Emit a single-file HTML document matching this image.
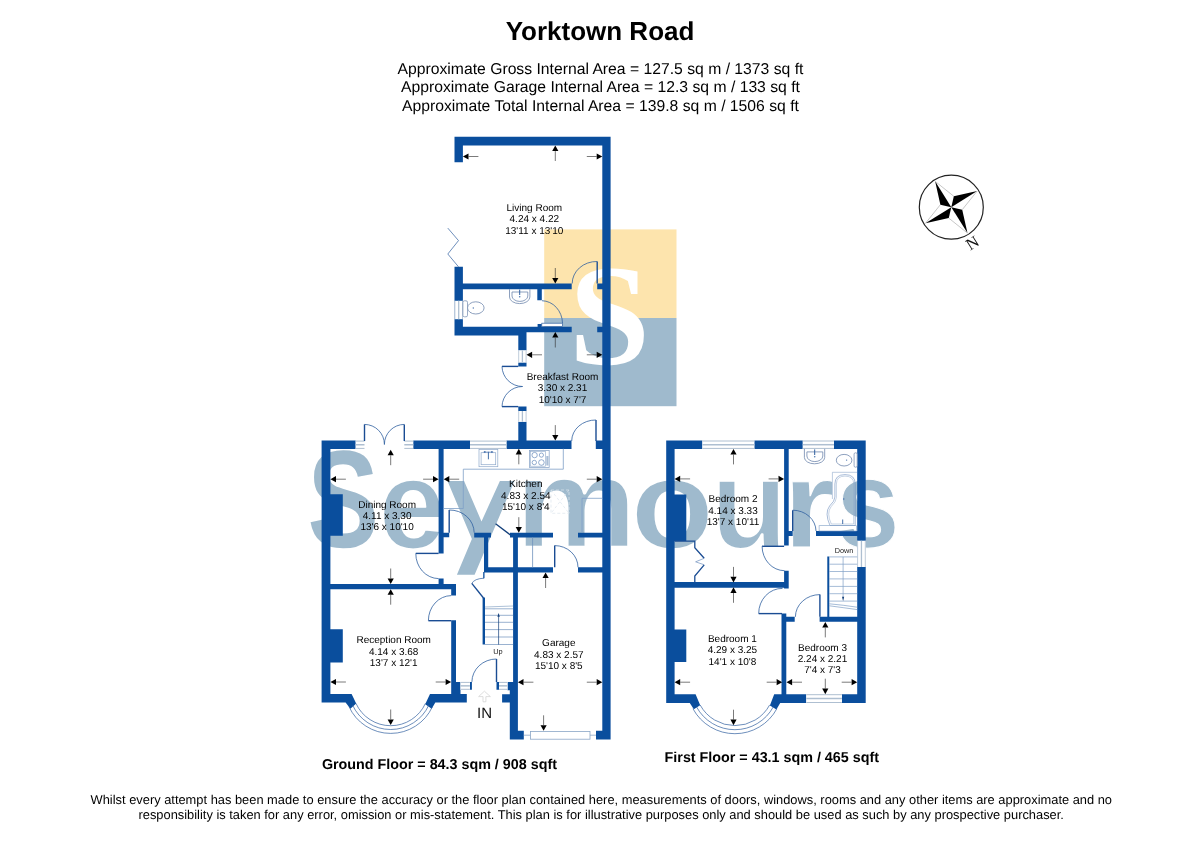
<!DOCTYPE html>
<html><head><meta charset="utf-8"><title>Yorktown Road</title>
<style>
html,body{margin:0;padding:0;background:#fff;}
body{width:1200px;height:848px;overflow:hidden;font-family:"Liberation Sans",sans-serif;}
svg{display:block;will-change:transform;font-family:"Liberation Sans",sans-serif;text-rendering:geometricPrecision;}
svg text{-webkit-font-smoothing:antialiased;}
</style></head><body>
<svg width="1200" height="848" viewBox="0 0 1200 848">
<rect width="1200" height="848" fill="#fff"/>
<rect x="544.20" y="229.40" width="132.30" height="88.60" fill="#fde4ad" />
<rect x="544.20" y="318.00" width="132.30" height="88.20" fill="#9fbacd" />
<text transform="matrix(1.0045,0,0,0.9943,568.99,364.16)" font-family="Liberation Serif" font-weight="bold" font-size="145" fill="#fff">S</text>
<text transform="matrix(0.8231,0,0,1.0661,307.59,546.61)" font-family="Liberation Sans" font-weight="bold" font-size="130" fill="#9fbacd">S</text>
<text transform="matrix(0.9247,0,0,0.9734,378.79,547.53)" font-family="Liberation Sans" font-weight="bold" font-size="130" fill="#9fbacd" stroke="#fff" stroke-width="1.69" stroke-linejoin="round">e</text>
<polygon points="447.50,481.10 464.10,481.10 481.50,521.40 499.90,481.10 514.40,481.10 474.60,574.80 456.90,574.80 471.90,539.10" fill="#9fbacd" />
<text transform="matrix(1.0587,0,0,0.9772,514.75,547.30)" font-family="Liberation Sans" font-weight="bold" font-size="130" fill="#9fbacd" stroke="#fff" stroke-width="2.55" stroke-linejoin="round">m</text>
<text transform="matrix(1.0522,0,0,0.9790,630.53,547.73)" font-family="Liberation Sans" font-weight="bold" font-size="130" fill="#9fbacd" stroke="#fff" stroke-width="1.97" stroke-linejoin="round">o</text>
<text transform="matrix(0.9754,0,0,0.9829,710.49,547.62)" font-family="Liberation Sans" font-weight="bold" font-size="130" fill="#9fbacd" stroke="#fff" stroke-width="2.66" stroke-linejoin="round">u</text>
<text transform="matrix(1.0174,0,0,0.9501,783.30,546.60)" font-family="Liberation Sans" font-weight="bold" font-size="130" fill="#9fbacd" stroke="#fff" stroke-width="1.22" stroke-linejoin="round">r</text>
<text transform="matrix(0.8814,0,0,0.9692,836.09,546.94)" font-family="Liberation Sans" font-weight="bold" font-size="130" fill="#9fbacd" stroke="#fff" stroke-width="1.08" stroke-linejoin="round">s</text>
<path fill="#0a4e9d" d="M454.50,136.70H610.60V145.50H454.50ZM454.50,136.70H462.90V162.20H454.50ZM602.30,136.70H610.60V739.40H602.30ZM454.50,266.80H462.90V335.60H454.50ZM462.90,283.60H571.70V289.20H462.90ZM597.20,283.60H602.30V289.20H597.20ZM454.50,326.80H526.50V335.60H454.50ZM526.40,326.80H571.70V332.20H526.40ZM597.20,326.80H602.30V332.20H597.20ZM537.30,289.00H541.80V300.30H537.30ZM518.30,335.60H526.50V350.40H518.30ZM518.30,362.40H526.50V366.40H518.30ZM518.30,406.60H526.50V411.00H518.30ZM518.30,421.70H526.50V441.00H518.30ZM321.60,440.60H355.70V448.90H321.60ZM413.20,440.60H470.00V448.90H413.20ZM506.40,440.60H571.50V448.90H506.40ZM595.80,440.60H602.30V448.90H595.80ZM321.60,440.60H330.40V702.50H321.60ZM321.60,694.00L351.60,694.00L356.20,703.40L350.40,708.70L345.60,702.50L321.60,702.50ZM430.00,694.00L466.80,694.00L466.80,702.50L435.30,702.50L431.70,708.70L425.20,704.30ZM451.20,681.90H460.50V702.40H451.20ZM451.20,694.30H466.80V702.40H451.20ZM330.40,494.30H342.80V535.80H330.40ZM330.40,629.30H342.80V662.40H330.40ZM330.40,584.00H456.00V589.20H330.40ZM438.60,448.70H443.60V553.40H438.60ZM438.60,578.60H443.60V584.00H438.60ZM443.60,532.70H449.20V537.30H443.60ZM474.20,532.70H491.00V537.40H474.20ZM510.00,532.70H553.00V537.40H510.00ZM578.00,532.70H602.30V537.40H578.00ZM484.00,537.40H488.20V572.50H484.00ZM484.00,567.30H553.00V572.50H484.00ZM578.00,567.30H602.30V572.50H578.00ZM513.10,532.70H517.90V682.00H513.10ZM507.50,681.90H517.90V690.30H507.50ZM509.80,690.30H517.90V739.50H509.80ZM502.10,694.30H509.80V702.40H502.10ZM509.80,730.70H523.80V739.50H509.80ZM596.00,730.70H610.60V739.50H596.00ZM451.20,584.00H456.00V595.60H451.20ZM451.20,620.20H456.00V694.00H451.20ZM482.60,597.60H485.00V644.60H482.60ZM469.90,681.90H471.90V689.80H469.90ZM496.50,681.90H499.00V689.80H496.50ZM483.20,572.00H484.50V578.30H483.20ZM537.60,324.00H541.80V326.80H537.60ZM666.20,440.50H674.60V703.00H666.20ZM666.20,440.50H702.40V448.90H666.20ZM754.30,440.50H802.80V448.90H754.30ZM834.00,440.50H865.70V448.90H834.00ZM857.20,440.50H865.70V540.80H857.20ZM857.20,567.00H865.70V703.00H857.20ZM784.10,448.90H788.70V545.50H784.10ZM784.10,570.70H788.70V588.40H784.10ZM788.70,531.00H792.70V536.00H788.70ZM816.00,531.00H857.20V536.00H816.00ZM674.60,494.50H686.30V541.00H674.60ZM674.60,629.60H686.30V662.10H674.60ZM674.60,581.90H788.70V587.80H674.60ZM781.50,613.60H786.30V694.30H781.50ZM786.10,616.80H794.70V621.80H786.10ZM819.60,616.80H857.20V621.80H819.60ZM827.30,556.60H829.30V616.80H827.30ZM666.20,694.20L695.60,694.20L700.20,705.20L693.80,709.30L689.80,703.00L666.20,703.00ZM774.20,694.20L806.30,694.20L806.30,703.00L780.20,703.00L776.40,709.50L769.90,705.50ZM841.90,694.20H865.70V703.00H841.90Z"/>
<rect x="454.50" y="300.80" width="8.40" height="18.40" fill="#fff" />
<line x1="454.90" y1="300.80" x2="454.90" y2="319.20" stroke="#aebfd1" stroke-width="0.8"/>
<line x1="462.50" y1="300.80" x2="462.50" y2="319.20" stroke="#aebfd1" stroke-width="0.8"/>
<line x1="458.70" y1="300.80" x2="458.70" y2="319.20" stroke="#aebfd1" stroke-width="1.3"/>
<rect x="518.30" y="350.40" width="8.20" height="12.00" fill="#fff" />
<line x1="518.70" y1="350.40" x2="518.70" y2="362.40" stroke="#aebfd1" stroke-width="0.8"/>
<line x1="526.10" y1="350.40" x2="526.10" y2="362.40" stroke="#aebfd1" stroke-width="0.8"/>
<line x1="522.40" y1="350.40" x2="522.40" y2="362.40" stroke="#aebfd1" stroke-width="1.3"/>
<rect x="518.30" y="411.00" width="8.20" height="10.70" fill="#fff" />
<line x1="518.70" y1="411.00" x2="518.70" y2="421.70" stroke="#aebfd1" stroke-width="0.8"/>
<line x1="526.10" y1="411.00" x2="526.10" y2="421.70" stroke="#aebfd1" stroke-width="0.8"/>
<line x1="522.40" y1="411.00" x2="522.40" y2="421.70" stroke="#aebfd1" stroke-width="1.3"/>
<rect x="355.70" y="440.60" width="8.80" height="8.30" fill="#fff" />
<line x1="355.70" y1="441.10" x2="364.50" y2="441.10" stroke="#aebfd1" stroke-width="1.0"/>
<line x1="355.70" y1="448.40" x2="364.50" y2="448.40" stroke="#aebfd1" stroke-width="1.0"/>
<line x1="355.70" y1="444.75" x2="364.50" y2="444.75" stroke="#aebfd1" stroke-width="1.5"/>
<rect x="404.30" y="440.60" width="8.90" height="8.30" fill="#fff" />
<line x1="404.30" y1="441.10" x2="413.20" y2="441.10" stroke="#aebfd1" stroke-width="1.0"/>
<line x1="404.30" y1="448.40" x2="413.20" y2="448.40" stroke="#aebfd1" stroke-width="1.0"/>
<line x1="404.30" y1="444.75" x2="413.20" y2="444.75" stroke="#aebfd1" stroke-width="1.5"/>
<rect x="470.00" y="440.60" width="36.40" height="8.30" fill="#fff" />
<line x1="470.00" y1="441.10" x2="506.40" y2="441.10" stroke="#aebfd1" stroke-width="1.0"/>
<line x1="470.00" y1="448.40" x2="506.40" y2="448.40" stroke="#aebfd1" stroke-width="1.0"/>
<line x1="470.00" y1="444.75" x2="506.40" y2="444.75" stroke="#aebfd1" stroke-width="1.5"/>
<rect x="460.50" y="681.90" width="9.40" height="7.90" fill="#fff" />
<line x1="460.50" y1="682.40" x2="469.90" y2="682.40" stroke="#aebfd1" stroke-width="1.0"/>
<line x1="460.50" y1="689.30" x2="469.90" y2="689.30" stroke="#aebfd1" stroke-width="1.0"/>
<line x1="460.50" y1="685.85" x2="469.90" y2="685.85" stroke="#aebfd1" stroke-width="1.5"/>
<rect x="499.00" y="681.90" width="8.50" height="7.90" fill="#fff" />
<line x1="499.00" y1="682.40" x2="507.50" y2="682.40" stroke="#aebfd1" stroke-width="1.0"/>
<line x1="499.00" y1="689.30" x2="507.50" y2="689.30" stroke="#aebfd1" stroke-width="1.0"/>
<line x1="499.00" y1="685.85" x2="507.50" y2="685.85" stroke="#aebfd1" stroke-width="1.5"/>
<line x1="523.80" y1="735.20" x2="530.50" y2="735.20" stroke="#8aa6c6" stroke-width="0.8"/>
<line x1="590.00" y1="735.20" x2="596.00" y2="735.20" stroke="#8aa6c6" stroke-width="0.8"/>
<rect x="530.50" y="731.40" width="59.50" height="7.80" fill="#fff" stroke="#8aa6c6" stroke-width="0.8"/>
<path d="M355.94,703.34 A38.2,38.2 0 0 0 425.46,703.34" stroke="#2f5f9f" stroke-width="0.7" fill="none" />
<path d="M352.48,704.92 A42,42 0 0 0 428.92,704.92" stroke="#2f5f9f" stroke-width="0.7" fill="none" />
<path d="M348.93,706.53 A45.9,45.9 0 0 0 432.47,706.53" stroke="#2f5f9f" stroke-width="0.7" fill="none" />
<line x1="364.50" y1="424.40" x2="364.50" y2="441.00" stroke="#1a4c93" stroke-width="1.4"/>
<line x1="404.30" y1="424.40" x2="404.30" y2="441.00" stroke="#1a4c93" stroke-width="1.4"/>
<path d="M364.5,424.4 A20,20 0 0 1 384.4,444.5" stroke="#2f5f9f" stroke-width="0.8" fill="none" />
<path d="M404.3,424.4 A20,20 0 0 0 384.4,444.5" stroke="#2f5f9f" stroke-width="0.8" fill="none" />
<line x1="502.00" y1="366.40" x2="518.30" y2="366.40" stroke="#1a4c93" stroke-width="1.4"/>
<line x1="502.00" y1="406.60" x2="518.30" y2="406.60" stroke="#1a4c93" stroke-width="1.4"/>
<path d="M502,366.4 A20.5,20.5 0 0 0 522.6,386.5" stroke="#2f5f9f" stroke-width="0.8" fill="none" />
<path d="M502,406.6 A20.5,20.5 0 0 1 522.6,386.5" stroke="#2f5f9f" stroke-width="0.8" fill="none" />
<line x1="596.00" y1="420.00" x2="596.00" y2="441.00" stroke="#1a4c93" stroke-width="1.4"/>
<path d="M596,420 A24,21 0 0 0 571.7,441" stroke="#2f5f9f" stroke-width="0.8" fill="none" />
<line x1="449.20" y1="510.00" x2="449.20" y2="532.70" stroke="#1a4c93" stroke-width="1.4"/>
<path d="M449.2,510 A24.5,23 0 0 1 474.2,532.7" stroke="#2f5f9f" stroke-width="0.8" fill="none" />
<line x1="415.80" y1="553.40" x2="438.60" y2="553.40" stroke="#1a4c93" stroke-width="1.4"/>
<path d="M415.8,553.4 A23,25 0 0 0 438.6,578.6" stroke="#2f5f9f" stroke-width="0.8" fill="none" />
<line x1="428.40" y1="620.70" x2="451.20" y2="620.70" stroke="#1a4c93" stroke-width="1.4"/>
<path d="M428.4,620.7 A23,25 0 0 1 451.2,595.6" stroke="#2f5f9f" stroke-width="0.8" fill="none" />
<line x1="554.70" y1="545.60" x2="554.70" y2="567.30" stroke="#1a4c93" stroke-width="1.4"/>
<path d="M554.7,545.6 A23.3,21.7 0 0 1 578,567.3" stroke="#2f5f9f" stroke-width="0.8" fill="none" />
<line x1="532.60" y1="537.40" x2="532.60" y2="567.30" stroke="#6f90bb" stroke-width="0.8"/>
<line x1="495.60" y1="523.70" x2="510.40" y2="534.90" stroke="#123f7a" stroke-width="1.3"/>
<path d="M484,578.2 Q474.5,578.6 471.8,583.4" stroke="#2f5f9f" stroke-width="0.7" fill="none" />
<line x1="471.80" y1="583.40" x2="483.50" y2="598.00" stroke="#1a4c93" stroke-width="1.4"/>
<line x1="496.50" y1="659.00" x2="496.50" y2="682.00" stroke="#1a4c93" stroke-width="1.4"/>
<path d="M496.5,659 A24.6,23 0 0 0 471.9,681.9" stroke="#2f5f9f" stroke-width="0.8" fill="none" />
<line x1="485.00" y1="607.00" x2="513.10" y2="606.00" stroke="#8aa6c6" stroke-width="0.7"/>
<line x1="485.00" y1="608.80" x2="513.10" y2="608.80" stroke="#6f90bb" stroke-width="0.7"/>
<line x1="485.00" y1="615.30" x2="513.10" y2="615.30" stroke="#6f90bb" stroke-width="0.7"/>
<line x1="485.00" y1="622.30" x2="513.10" y2="622.30" stroke="#6f90bb" stroke-width="0.7"/>
<line x1="485.00" y1="629.60" x2="513.10" y2="629.60" stroke="#6f90bb" stroke-width="0.7"/>
<line x1="485.00" y1="637.00" x2="513.10" y2="637.00" stroke="#6f90bb" stroke-width="0.7"/>
<line x1="485.00" y1="644.50" x2="513.10" y2="644.50" stroke="#6f90bb" stroke-width="0.7"/>
<line x1="498.60" y1="616.00" x2="498.60" y2="644.60" stroke="#123f7a" stroke-width="0.7"/>
<polygon points="498.60,613.00 497.40,616.80 499.80,616.80" fill="#123f7a" />
<text x="498" y="654.2" font-size="7.4" text-anchor="middle" fill="#222">Up</text>
<path d="M443.6,508.5 H463.3 V469.2 H563.3 V448.7" stroke="#7f9fc6" stroke-width="0.8" fill="none" />
<rect x="479.00" y="449.50" width="18.80" height="17.20" fill="none" stroke="#8fa9cb" stroke-width="0.7"/>
<rect x="481.10" y="452.70" width="14.60" height="12.00" fill="none" stroke="#8fa9cb" stroke-width="0.7"/>
<line x1="488.40" y1="451.80" x2="488.40" y2="459.30" stroke="#2f5f9f" stroke-width="0.9"/>
<circle cx="484.8" cy="452" r="0.9" fill="#4d77b0"/>
<circle cx="491.9" cy="452" r="0.9" fill="#4d77b0"/>
<line x1="483.50" y1="452.00" x2="493.30" y2="452.00" stroke="#4d77b0" stroke-width="0.5"/>
<rect x="529.40" y="450.40" width="19.80" height="17.00" fill="none" stroke="#8fa9cb" stroke-width="0.8"/>
<rect x="530.60" y="451.60" width="15.00" height="14.60" fill="none" stroke="#8fa9cb" stroke-width="0.6"/>
<circle cx="534.6" cy="455.1" r="2.7" fill="none" stroke="#4d77b0" stroke-width="0.6"/>
<circle cx="541.4" cy="455.1" r="2.1" fill="none" stroke="#4d77b0" stroke-width="0.6"/>
<circle cx="534.3" cy="462.5" r="2.2" fill="none" stroke="#4d77b0" stroke-width="0.6"/>
<circle cx="541.4" cy="462.5" r="2.8" fill="none" stroke="#4d77b0" stroke-width="0.6"/>
<rect x="546.30" y="456.00" width="2.20" height="9.50" fill="#a9bdd6" />
<path d="M602.3,498.3 H582 V532.7" stroke="#7f9fc6" stroke-width="0.8" fill="none" />
<path d="M551,490 H569 V513.3 H551 Z M551,490 L569,513.3 M569,490 L551,513.3" stroke="#dde5ee" stroke-width="0.7" fill="none" stroke-dasharray="3 2"/>
<text x="484.6" y="717.8" font-size="15" text-anchor="middle" fill="#111">IN</text>
<path d="M484.4,691.2 L490.4,696.6 H485.9 V701.8 H483.0 V696.6 H478.6 Z" stroke="#d4d4d4" stroke-width="0.8" fill="none" />
<ellipse cx="475.8" cy="307.9" rx="8.3" ry="6.1" fill="none" stroke="#7088ad" stroke-width="0.8"/>
<circle cx="473.3" cy="308" r="0.7" fill="#4d77b0"/>
<rect x="462.9" y="300.8" width="4.6" height="16" rx="1.5" fill="#fff" stroke="#7088ad" stroke-width="0.7"/>
<path d="M509.5,289.2 V297 A10.2,6.6 0 0 0 529.9,297 V289.2" stroke="#7088ad" stroke-width="0.8" fill="none" />
<path d="M512,292 V296 A7.9,5.4 0 0 0 527.8,296 V292 Z" stroke="#7088ad" stroke-width="0.8" fill="none" />
<line x1="519.70" y1="289.60" x2="519.70" y2="295.00" stroke="#2f5f9f" stroke-width="1.0"/>
<circle cx="519.7" cy="296.8" r="0.8" fill="#4d77b0"/>
<path d="M542,300.7 A21,23 0 0 1 562.5,323" stroke="#2f5f9f" stroke-width="0.8" fill="none" />
<rect x="541.80" y="323.20" width="20.70" height="3.20" fill="#fff" stroke="#2f5f9f" stroke-width="0.7"/>
<path d="M458.5,266.8 L447.8,254 L458.5,240.6 L447.8,228.1" stroke="#2f5f9f" stroke-width="0.7" fill="none" />
<line x1="597.20" y1="261.50" x2="597.20" y2="283.50" stroke="#1a4c93" stroke-width="1.4"/>
<path d="M597.2,261.5 A24.5,22 0 0 0 572.2,283.5" stroke="#2f5f9f" stroke-width="0.8" fill="none" />
<polygon points="462.90,156.50 468.50,153.40 468.50,159.60" fill="#000" />
<line x1="468.50" y1="156.50" x2="478.40" y2="156.50" stroke="#333" stroke-width="0.65"/>
<polygon points="555.30,145.50 552.20,151.10 558.40,151.10" fill="#000" />
<line x1="555.30" y1="151.10" x2="555.30" y2="161.00" stroke="#333" stroke-width="0.65"/>
<polygon points="602.30,156.50 596.70,153.40 596.70,159.60" fill="#000" />
<line x1="596.70" y1="156.50" x2="586.80" y2="156.50" stroke="#333" stroke-width="0.65"/>
<polygon points="555.30,283.50 552.20,277.90 558.40,277.90" fill="#000" />
<line x1="555.30" y1="277.90" x2="555.30" y2="268.00" stroke="#333" stroke-width="0.65"/>
<polygon points="555.30,332.00 552.20,337.60 558.40,337.60" fill="#000" />
<line x1="555.30" y1="337.60" x2="555.30" y2="347.50" stroke="#333" stroke-width="0.65"/>
<polygon points="526.50,354.80 532.10,351.70 532.10,357.90" fill="#000" />
<line x1="532.10" y1="354.80" x2="542.00" y2="354.80" stroke="#333" stroke-width="0.65"/>
<polygon points="602.30,354.80 596.70,351.70 596.70,357.90" fill="#000" />
<line x1="596.70" y1="354.80" x2="586.80" y2="354.80" stroke="#333" stroke-width="0.65"/>
<polygon points="555.30,440.60 552.20,435.00 558.40,435.00" fill="#000" />
<line x1="555.30" y1="435.00" x2="555.30" y2="425.10" stroke="#333" stroke-width="0.65"/>
<polygon points="518.80,448.80 515.70,454.40 521.90,454.40" fill="#000" />
<line x1="518.80" y1="454.40" x2="518.80" y2="464.30" stroke="#333" stroke-width="0.65"/>
<polygon points="443.70,479.20 449.30,476.10 449.30,482.30" fill="#000" />
<line x1="449.30" y1="479.20" x2="459.20" y2="479.20" stroke="#333" stroke-width="0.65"/>
<polygon points="602.30,479.20 596.70,476.10 596.70,482.30" fill="#000" />
<line x1="596.70" y1="479.20" x2="586.80" y2="479.20" stroke="#333" stroke-width="0.65"/>
<polygon points="518.80,532.70 515.70,527.10 521.90,527.10" fill="#000" />
<line x1="518.80" y1="527.10" x2="518.80" y2="517.20" stroke="#333" stroke-width="0.65"/>
<polygon points="390.70,449.70 387.60,455.30 393.80,455.30" fill="#000" />
<line x1="390.70" y1="455.30" x2="390.70" y2="465.20" stroke="#333" stroke-width="0.65"/>
<polygon points="330.40,479.20 336.00,476.10 336.00,482.30" fill="#000" />
<line x1="336.00" y1="479.20" x2="345.90" y2="479.20" stroke="#333" stroke-width="0.65"/>
<polygon points="438.60,479.20 433.00,476.10 433.00,482.30" fill="#000" />
<line x1="433.00" y1="479.20" x2="423.10" y2="479.20" stroke="#333" stroke-width="0.65"/>
<polygon points="390.70,584.00 387.60,578.40 393.80,578.40" fill="#000" />
<line x1="390.70" y1="578.40" x2="390.70" y2="568.50" stroke="#333" stroke-width="0.65"/>
<polygon points="390.70,589.20 387.60,594.80 393.80,594.80" fill="#000" />
<line x1="390.70" y1="594.80" x2="390.70" y2="604.70" stroke="#333" stroke-width="0.65"/>
<polygon points="330.40,682.00 336.00,678.90 336.00,685.10" fill="#000" />
<line x1="336.00" y1="682.00" x2="345.90" y2="682.00" stroke="#333" stroke-width="0.65"/>
<polygon points="451.20,682.00 445.60,678.90 445.60,685.10" fill="#000" />
<line x1="445.60" y1="682.00" x2="435.70" y2="682.00" stroke="#333" stroke-width="0.65"/>
<polygon points="390.70,725.00 387.60,719.40 393.80,719.40" fill="#000" />
<line x1="390.70" y1="719.40" x2="390.70" y2="709.50" stroke="#333" stroke-width="0.65"/>
<polygon points="545.60,572.50 542.50,578.10 548.70,578.10" fill="#000" />
<line x1="545.60" y1="578.10" x2="545.60" y2="588.00" stroke="#333" stroke-width="0.65"/>
<polygon points="517.90,682.20 523.50,679.10 523.50,685.30" fill="#000" />
<line x1="523.50" y1="682.20" x2="533.40" y2="682.20" stroke="#333" stroke-width="0.65"/>
<polygon points="602.30,682.20 596.70,679.10 596.70,685.30" fill="#000" />
<line x1="596.70" y1="682.20" x2="586.80" y2="682.20" stroke="#333" stroke-width="0.65"/>
<polygon points="543.60,730.80 540.50,725.20 546.70,725.20" fill="#000" />
<line x1="543.60" y1="725.20" x2="543.60" y2="715.30" stroke="#333" stroke-width="0.65"/>
<rect x="702.40" y="440.50" width="51.90" height="8.40" fill="#fff" />
<line x1="702.40" y1="441.00" x2="754.30" y2="441.00" stroke="#aebfd1" stroke-width="1.0"/>
<line x1="702.40" y1="448.40" x2="754.30" y2="448.40" stroke="#aebfd1" stroke-width="1.0"/>
<line x1="702.40" y1="444.70" x2="754.30" y2="444.70" stroke="#aebfd1" stroke-width="1.5"/>
<rect x="802.80" y="440.50" width="31.20" height="8.40" fill="#fff" />
<line x1="802.80" y1="441.00" x2="834.00" y2="441.00" stroke="#aebfd1" stroke-width="1.0"/>
<line x1="802.80" y1="448.40" x2="834.00" y2="448.40" stroke="#aebfd1" stroke-width="1.0"/>
<line x1="802.80" y1="444.70" x2="834.00" y2="444.70" stroke="#aebfd1" stroke-width="1.5"/>
<rect x="857.20" y="540.80" width="8.50" height="26.20" fill="#fff" />
<line x1="857.60" y1="540.80" x2="857.60" y2="567.00" stroke="#aebfd1" stroke-width="0.8"/>
<line x1="865.30" y1="540.80" x2="865.30" y2="567.00" stroke="#aebfd1" stroke-width="0.8"/>
<line x1="861.45" y1="540.80" x2="861.45" y2="567.00" stroke="#aebfd1" stroke-width="1.3"/>
<rect x="806.30" y="694.20" width="35.60" height="8.80" fill="#fff" />
<line x1="806.30" y1="694.70" x2="841.90" y2="694.70" stroke="#aebfd1" stroke-width="1.0"/>
<line x1="806.30" y1="702.50" x2="841.90" y2="702.50" stroke="#aebfd1" stroke-width="1.0"/>
<line x1="806.30" y1="698.60" x2="841.90" y2="698.60" stroke="#aebfd1" stroke-width="1.5"/>
<path d="M700.10,704.90 A39.6,39.6 0 0 0 769.70,704.90" stroke="#2f5f9f" stroke-width="0.7" fill="none" />
<path d="M696.50,706.85 A43.7,43.7 0 0 0 773.30,706.85" stroke="#2f5f9f" stroke-width="0.7" fill="none" />
<path d="M692.98,708.76 A47.7,47.7 0 0 0 776.82,708.76" stroke="#2f5f9f" stroke-width="0.7" fill="none" />
<line x1="792.70" y1="510.20" x2="792.70" y2="531.00" stroke="#1a4c93" stroke-width="1.4"/>
<path d="M792.7,510.2 A23.3,21 0 0 1 816,531" stroke="#2f5f9f" stroke-width="0.8" fill="none" />
<line x1="762.10" y1="546.30" x2="784.10" y2="546.30" stroke="#1a4c93" stroke-width="1.4"/>
<path d="M762.1,546.3 A22.5,24.5 0 0 0 784.5,570.7" stroke="#2f5f9f" stroke-width="0.8" fill="none" />
<line x1="758.70" y1="613.60" x2="782.00" y2="613.60" stroke="#1a4c93" stroke-width="1.4"/>
<path d="M758.7,613.6 A23.5,25 0 0 1 782.5,588.4" stroke="#2f5f9f" stroke-width="0.8" fill="none" />
<line x1="819.90" y1="594.60" x2="819.90" y2="616.80" stroke="#1a4c93" stroke-width="1.4"/>
<path d="M819.9,594.6 A24.5,22.3 0 0 0 795.4,616.8" stroke="#2f5f9f" stroke-width="0.8" fill="none" />
<path d="M674.6,541.2 H694.8 V547.7 L704.2,558.3 M704.2,564.8 L694.8,576 V582.4" stroke="#1a4c93" stroke-width="1.3" fill="none" />
<path d="M704.2,558.3 L695.6,561.8 L704.2,564.8" stroke="#6f8fbd" stroke-width="0.7" fill="none" />
<line x1="829.30" y1="556.90" x2="857.20" y2="556.90" stroke="#7f9fc6" stroke-width="0.7"/>
<line x1="829.30" y1="564.20" x2="857.20" y2="564.20" stroke="#7f9fc6" stroke-width="0.7"/>
<line x1="829.30" y1="571.50" x2="857.20" y2="571.50" stroke="#7f9fc6" stroke-width="0.7"/>
<line x1="829.30" y1="578.90" x2="857.20" y2="578.90" stroke="#7f9fc6" stroke-width="0.7"/>
<line x1="829.30" y1="586.40" x2="857.20" y2="586.40" stroke="#7f9fc6" stroke-width="0.7"/>
<line x1="829.30" y1="593.70" x2="857.20" y2="593.70" stroke="#7f9fc6" stroke-width="0.7"/>
<line x1="829.30" y1="601.10" x2="857.20" y2="601.10" stroke="#7f9fc6" stroke-width="0.7"/>
<path d="M829.3,603.8 Q843,605 857.2,607.2" stroke="#7f9fc6" stroke-width="0.7" fill="none" />
<path d="M829.3,605.8 Q843,607.6 857.2,609.6" stroke="#7f9fc6" stroke-width="0.7" fill="none" />
<line x1="843.10" y1="556.90" x2="843.10" y2="597.00" stroke="#7f9fc6" stroke-width="0.7"/>
<polygon points="843.10,601.00 842.00,596.80 844.20,596.80" fill="#123f7a" />
<text x="844" y="552.9" font-size="7.3" text-anchor="middle" fill="#222">Down</text>
<path d="M804.4,448.9 V457.5 A10.15,6.3 0 0 0 824.7,457.5 V448.9" stroke="#7088ad" stroke-width="0.8" fill="none" />
<path d="M806.9,451.9 V456 A7.95,5.6 0 0 0 822.8,456 V451.9 Z" stroke="#7088ad" stroke-width="0.8" fill="none" />
<line x1="814.70" y1="449.40" x2="814.70" y2="455.00" stroke="#2f5f9f" stroke-width="1.0"/>
<circle cx="814.7" cy="456.8" r="0.8" fill="#4d77b0"/>
<ellipse cx="844.1" cy="460.2" rx="7.8" ry="5.8" fill="none" stroke="#7088ad" stroke-width="0.8"/>
<circle cx="846.6" cy="460.1" r="0.7" fill="#4d77b0"/>
<rect x="854.1" y="452.8" width="3.1" height="14.4" rx="1.3" fill="#fff" stroke="#7088ad" stroke-width="0.7"/>
<path d="M832.4,499 V472.3 H857" stroke="#8fa9cb" stroke-width="0.6" fill="none" />
<path d="M834.9,497 V484 Q834.9,474.6 845,474.6 Q855.2,474.6 855.2,484 V525.5 H830 Q824.3,513 829.6,506 Q834.9,501 834.9,497 Z" stroke="#6f8fbd" stroke-width="0.6" fill="none" />
<path d="M836.4,497.5 V484 Q836.4,476.1 845,476.1 Q853.7,476.1 853.7,484 V524 H831.3 Q826.3,513 831,506.8 Q836.4,501.5 836.4,497.5 Z" stroke="#8fa9cb" stroke-width="0.5" fill="none" />
<circle cx="843.7" cy="499" r="0.8" fill="#4d77b0"/>
<line x1="842.70" y1="519.50" x2="842.70" y2="524.00" stroke="#2f5f9f" stroke-width="0.9"/>
<rect x="819.10" y="525.70" width="37.30" height="5.30" fill="none" stroke="#7f9fc6" stroke-width="0.6"/>
<polygon points="733.50,448.90 730.40,454.50 736.60,454.50" fill="#000" />
<line x1="733.50" y1="454.50" x2="733.50" y2="464.40" stroke="#333" stroke-width="0.65"/>
<polygon points="674.60,478.90 680.20,475.80 680.20,482.00" fill="#000" />
<line x1="680.20" y1="478.90" x2="690.10" y2="478.90" stroke="#333" stroke-width="0.65"/>
<polygon points="784.10,478.90 778.50,475.80 778.50,482.00" fill="#000" />
<line x1="778.50" y1="478.90" x2="768.60" y2="478.90" stroke="#333" stroke-width="0.65"/>
<polygon points="733.50,582.40 730.40,576.80 736.60,576.80" fill="#000" />
<line x1="733.50" y1="576.80" x2="733.50" y2="566.90" stroke="#333" stroke-width="0.65"/>
<polygon points="733.50,587.30 730.40,592.90 736.60,592.90" fill="#000" />
<line x1="733.50" y1="592.90" x2="733.50" y2="602.80" stroke="#333" stroke-width="0.65"/>
<polygon points="674.60,682.20 680.20,679.10 680.20,685.30" fill="#000" />
<line x1="680.20" y1="682.20" x2="690.10" y2="682.20" stroke="#333" stroke-width="0.65"/>
<polygon points="782.20,682.20 776.60,679.10 776.60,685.30" fill="#000" />
<line x1="776.60" y1="682.20" x2="766.70" y2="682.20" stroke="#333" stroke-width="0.65"/>
<polygon points="733.50,725.20 730.40,719.60 736.60,719.60" fill="#000" />
<line x1="733.50" y1="719.60" x2="733.50" y2="709.70" stroke="#333" stroke-width="0.65"/>
<polygon points="825.30,621.90 822.20,627.50 828.40,627.50" fill="#000" />
<line x1="825.30" y1="627.50" x2="825.30" y2="637.40" stroke="#333" stroke-width="0.65"/>
<polygon points="786.50,682.20 792.10,679.10 792.10,685.30" fill="#000" />
<line x1="792.10" y1="682.20" x2="802.00" y2="682.20" stroke="#333" stroke-width="0.65"/>
<polygon points="857.20,682.20 851.60,679.10 851.60,685.30" fill="#000" />
<line x1="851.60" y1="682.20" x2="841.70" y2="682.20" stroke="#333" stroke-width="0.65"/>
<polygon points="825.30,694.20 822.20,688.60 828.40,688.60" fill="#000" />
<line x1="825.30" y1="688.60" x2="825.30" y2="678.70" stroke="#333" stroke-width="0.65"/>
<text x="534.3" y="210.75" font-size="10" text-anchor="middle" fill="#000">Living Room</text>
<text x="534.3" y="222.25" font-size="10" text-anchor="middle" fill="#000">4.24 x 4.22</text>
<text x="534.3" y="233.75" font-size="10" text-anchor="middle" fill="#000">13'11 x 13'10</text>
<text x="562.5" y="379.95" font-size="10" text-anchor="middle" fill="#000">Breakfast Room</text>
<text x="562.5" y="391.45" font-size="10" text-anchor="middle" fill="#000">3.30 x 2.31</text>
<text x="562.5" y="402.95" font-size="10" text-anchor="middle" fill="#000">10'10 x 7'7</text>
<text x="525.8" y="487.15" font-size="10" text-anchor="middle" fill="#000">Kitchen</text>
<text x="525.8" y="498.65" font-size="10" text-anchor="middle" fill="#000">4.83 x 2.54</text>
<text x="525.8" y="510.25" font-size="10" text-anchor="middle" fill="#000">15'10 x 8'4</text>
<text x="387.1" y="507.55" font-size="10" text-anchor="middle" fill="#000">Dining Room</text>
<text x="387.1" y="519.05" font-size="10" text-anchor="middle" fill="#000">4.11 x 3.30</text>
<text x="387.1" y="530.35" font-size="10" text-anchor="middle" fill="#000">13'6 x 10'10</text>
<text x="393.7" y="643.35" font-size="10" text-anchor="middle" fill="#000">Reception Room</text>
<text x="393.7" y="654.95" font-size="10" text-anchor="middle" fill="#000">4.14 x 3.68</text>
<text x="393.7" y="666.35" font-size="10" text-anchor="middle" fill="#000">13'7 x 12'1</text>
<text x="558.8" y="646.25" font-size="10" text-anchor="middle" fill="#000">Garage</text>
<text x="558.8" y="657.75" font-size="10" text-anchor="middle" fill="#000">4.83 x 2.57</text>
<text x="558.8" y="669.25" font-size="10" text-anchor="middle" fill="#000">15'10 x 8'5</text>
<text x="733.0" y="502.35" font-size="10" text-anchor="middle" fill="#000">Bedroom 2</text>
<text x="733.0" y="513.75" font-size="10" text-anchor="middle" fill="#000">4.14 x 3.33</text>
<text x="733.0" y="525.15" font-size="10" text-anchor="middle" fill="#000">13'7 x 10'11</text>
<text x="732.4" y="641.75" font-size="10" text-anchor="middle" fill="#000">Bedroom 1</text>
<text x="732.4" y="653.25" font-size="10" text-anchor="middle" fill="#000">4.29 x 3.25</text>
<text x="732.4" y="664.55" font-size="10" text-anchor="middle" fill="#000">14'1 x 10'8</text>
<text x="822.5" y="650.85" font-size="10" text-anchor="middle" fill="#000">Bedroom 3</text>
<text x="822.5" y="662.25" font-size="10" text-anchor="middle" fill="#000">2.24 x 2.21</text>
<text x="822.5" y="673.45" font-size="10" text-anchor="middle" fill="#000">7'4 x 7'3</text>
<circle cx="951.3" cy="207.2" r="32" fill="none" stroke="#222" stroke-width="1.2"/>
<g transform="translate(951.3,207.2) rotate(148)">
<polygon points="0,-30.5 -7.92,-7.92 0,0" fill="#000"/>
<polyline points="0,-30.5 7.92,-7.92" fill="none" stroke="#999" stroke-width="0.5"/>
<polygon points="30.5,0 7.92,-7.92 0,0" fill="#000"/>
<polyline points="30.5,0 7.92,7.92" fill="none" stroke="#999" stroke-width="0.5"/>
<polygon points="0,30.5 7.92,7.92 0,0" fill="#000"/>
<polyline points="0,30.5 -7.92,7.92" fill="none" stroke="#999" stroke-width="0.5"/>
<polygon points="-30.5,0 -7.92,7.92 0,0" fill="#000"/>
<polyline points="-30.5,0 -7.92,-7.92" fill="none" stroke="#999" stroke-width="0.5"/>
</g>
<text transform="translate(972.7,243.3) rotate(-32)" font-family="Liberation Serif" font-size="16.5" text-anchor="middle" y="5" fill="#111">N</text>
<text x="600" y="40" font-size="26" font-weight="bold" text-anchor="middle" fill="#000">Yorktown Road</text>
<text x="600.5" y="73.9" font-size="15.72" text-anchor="middle" fill="#000">Approximate Gross Internal Area = 127.5 sq m / 1373 sq ft</text>
<text x="600.5" y="92.3" font-size="15.72" text-anchor="middle" fill="#000">Approximate Garage Internal Area = 12.3 sq m / 133 sq ft</text>
<text x="600.5" y="110.8" font-size="15.72" text-anchor="middle" fill="#000">Approximate Total Internal Area = 139.8 sq m / 1506 sq ft</text>
<text x="321.9" y="768.7" font-size="14.32" font-weight="bold" fill="#000">Ground Floor = 84.3 sqm / 908 sqft</text>
<text x="664.6" y="761.8" font-size="14.32" font-weight="bold" fill="#000">First Floor = 43.1 sqm / 465 sqft</text>
<text x="601.3" y="803.6" font-size="12.86" text-anchor="middle" fill="#000">Whilst every attempt has been made to ensure the accuracy or the floor plan contained here, measurements of doors, windows, rooms and any other items are approximate and no</text>
<text x="601.2" y="819.2" font-size="12.87" text-anchor="middle" fill="#000">responsibility is taken for any error, omission or mis-statement. This plan is for illustrative purposes only and should be used as such by any prospective purchaser.</text>
</svg>
</body></html>
